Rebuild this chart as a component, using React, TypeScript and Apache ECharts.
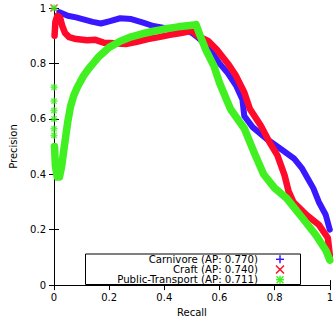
import React, { useEffect, useRef } from "react";
import * as echarts from "echarts";

const seriesNames = ["Carnivore (AP: 0.770)", "Craft (AP: 0.740)", "Public-Transport (AP: 0.711)"];
const seriesColors = ["#3a18ff", "#ff0a2a", "#40f020"];

const axisTicks = [0, 0.2, 0.4, 0.6, 0.8, 1];

const carnivore: number[][] = [
  [0.02, 0.985], [0.05, 0.972], [0.08, 0.966], [0.11, 0.958], [0.14, 0.95], [0.17, 0.944],
  [0.2, 0.952], [0.24, 0.963], [0.28, 0.96], [0.32, 0.948], [0.36, 0.935], [0.4, 0.928],
  [0.44, 0.925], [0.48, 0.918], [0.5, 0.91], [0.52, 0.895], [0.55, 0.868], [0.58, 0.83],
  [0.6, 0.8], [0.63, 0.765], [0.66, 0.72], [0.683, 0.67], [0.69, 0.61], [0.72, 0.57],
  [0.77, 0.528], [0.82, 0.493], [0.87, 0.457], [0.9, 0.42], [0.92, 0.385], [0.94, 0.35],
  [0.96, 0.3], [0.985, 0.254], [1.0, 0.2],
];

const craft: number[][] = [
  [0.002, 0.9], [0.005, 0.95], [0.012, 0.972], [0.022, 0.965], [0.03, 0.935], [0.04, 0.91],
  [0.055, 0.895], [0.08, 0.888], [0.12, 0.884], [0.15, 0.885], [0.18, 0.875], [0.22, 0.873],
  [0.26, 0.87], [0.3, 0.878], [0.34, 0.888], [0.38, 0.895], [0.42, 0.903], [0.46, 0.91],
  [0.5, 0.918], [0.52, 0.9], [0.56, 0.88], [0.59, 0.85], [0.63, 0.8], [0.66, 0.755],
  [0.69, 0.695], [0.71, 0.636], [0.75, 0.575], [0.78, 0.518], [0.81, 0.468], [0.836, 0.396],
  [0.85, 0.34], [0.868, 0.3], [0.915, 0.254], [0.96, 0.218], [0.993, 0.17], [1.0, 0.107],
];
const craftPoints: number[][] = [[0, 1.0]];

const publicTransport: number[][] = [
  [0.002, 0.5], [0.005, 0.43], [0.012, 0.39], [0.02, 0.39], [0.028, 0.43], [0.036, 0.49],
  [0.05, 0.59], [0.06, 0.645], [0.072, 0.685], [0.085, 0.715], [0.107, 0.755], [0.125, 0.78],
  [0.142, 0.8], [0.16, 0.822], [0.178, 0.838], [0.2, 0.858], [0.24, 0.88], [0.28, 0.896],
  [0.32, 0.907], [0.36, 0.916], [0.4, 0.924], [0.45, 0.932], [0.5, 0.938], [0.515, 0.94],
  [0.53, 0.9], [0.55, 0.85], [0.58, 0.79], [0.6, 0.73], [0.64, 0.635], [0.69, 0.565],
  [0.725, 0.48], [0.76, 0.4], [0.8, 0.35], [0.843, 0.314], [0.9, 0.243], [0.95, 0.18],
  [0.986, 0.125], [1.0, 0.09],
];
const publicTransportPoints: number[][] = [
  [0, 1.0], [0, 0.714], [0, 0.664], [0, 0.63], [0, 0.6], [0, 0.564], [0, 0.54], [0, 0.5],
];

const FONT = "DejaVu Sans";
const crossPath = "path://M0,0L8,8M8,0L0,8";
const starPath = "path://M0,4L8,4M4,0L4,8M1,1L7,7M7,1L1,7";

export default function App() {
  const ref = useRef<HTMLDivElement>(null);
  useEffect(() => {
    document.body.style.margin = "0";
    const chart = echarts.init(ref.current!, null, { renderer: "svg" });
    const baseAxis = {
      type: "value" as const,
      min: 0,
      max: 1,
      interval: 0.2,
      splitLine: { show: false },
      axisLine: { show: true, lineStyle: { color: "#000", width: 1 } },
      axisTick: { show: true, inside: true, length: 5, lineStyle: { color: "#000" } },
    };
    const fmt = (v: number) => String(axisTicks.find((t) => Math.abs(t - v) < 1e-6) ?? v);
    const lineSeries = (name: string, data: number[][], color: string, width: number) => ({
      name,
      type: "line",
      data,
      showSymbol: false,
      symbol: "none",
      clip: false,
      lineStyle: { color, width, cap: "round", join: "round" },
      itemStyle: { color },
    });
    const lx = 280;
    const rows = [259.3, 269.5, 279.7];
    const legendFont = `10.2px '${FONT}'`;
    chart.setOption({
      animation: false,
      textStyle: { fontFamily: FONT },
      grid: { left: 53, right: 2, top: 8, bottom: 34 },
      xAxis: [
        {
          ...baseAxis,
          position: "bottom",
          name: "Recall",
          nameLocation: "middle",
          nameGap: 20,
          nameTextStyle: { fontSize: 10, color: "#000", fontFamily: FONT },
          axisLabel: { fontSize: 10, color: "#000", margin: 7, fontFamily: FONT, formatter: fmt },
        },
        { ...baseAxis, position: "top", axisLabel: { show: false } },
      ],
      yAxis: [
        {
          ...baseAxis,
          position: "left",
          name: "Precision",
          nameLocation: "middle",
          nameGap: 36,
          nameTextStyle: { fontSize: 10, color: "#000", fontFamily: FONT },
          axisLabel: { fontSize: 10, color: "#000", margin: 8, fontFamily: FONT, formatter: fmt },
        },
        { ...baseAxis, position: "right", axisLabel: { show: false } },
      ],
      series: [
        lineSeries(seriesNames[0], carnivore, seriesColors[0], 6),
        lineSeries(seriesNames[1], craft, seriesColors[1], 6.5),
        {
          name: seriesNames[1] + " pts",
          type: "scatter",
          data: craftPoints,
          clip: false,
          symbol: crossPath,
          symbolSize: 7,
          itemStyle: { color: "none", borderColor: seriesColors[1], borderWidth: 1.5 },
        },
        lineSeries(seriesNames[2], publicTransport, seriesColors[2], 7.5),
        {
          name: seriesNames[2] + " pts",
          type: "scatter",
          data: publicTransportPoints,
          clip: false,
          symbol: starPath,
          symbolSize: 7,
          itemStyle: { color: "none", borderColor: seriesColors[2], borderWidth: 1.5 },
        },
      ],
      graphic: [
        {
          type: "rect",
          shape: { x: 85.5, y: 254, width: 215, height: 30.5 },
          style: { fill: "#fff", stroke: "#000", lineWidth: 1 },
          z: 100,
        },
        ...seriesNames.map((n, i) => ({
          type: "text",
          x: 258,
          y: rows[i],
          z: 101,
          style: { text: n, fill: "#000", font: legendFont, align: "right", verticalAlign: "middle" },
        })),
        { type: "line", z: 101, shape: { x1: lx - 4, y1: rows[0], x2: lx + 4, y2: rows[0] }, style: { stroke: seriesColors[0], lineWidth: 1.5 } },
        { type: "line", z: 101, shape: { x1: lx, y1: rows[0] - 4, x2: lx, y2: rows[0] + 4 }, style: { stroke: seriesColors[0], lineWidth: 1.5 } },
        { type: "line", z: 101, shape: { x1: lx - 4, y1: rows[1] - 4, x2: lx + 4, y2: rows[1] + 4 }, style: { stroke: seriesColors[1], lineWidth: 1.5 } },
        { type: "line", z: 101, shape: { x1: lx + 4, y1: rows[1] - 4, x2: lx - 4, y2: rows[1] + 4 }, style: { stroke: seriesColors[1], lineWidth: 1.5 } },
        { type: "line", z: 101, shape: { x1: lx - 4, y1: rows[2], x2: lx + 4, y2: rows[2] }, style: { stroke: seriesColors[2], lineWidth: 1.5 } },
        { type: "line", z: 101, shape: { x1: lx, y1: rows[2] - 4, x2: lx, y2: rows[2] + 4 }, style: { stroke: seriesColors[2], lineWidth: 1.5 } },
        { type: "line", z: 101, shape: { x1: lx - 3.5, y1: rows[2] - 3.5, x2: lx + 3.5, y2: rows[2] + 3.5 }, style: { stroke: seriesColors[2], lineWidth: 1.5 } },
        { type: "line", z: 101, shape: { x1: lx + 3.5, y1: rows[2] - 3.5, x2: lx - 3.5, y2: rows[2] + 3.5 }, style: { stroke: seriesColors[2], lineWidth: 1.5 } },
      ],
    });
    return () => chart.dispose();
  }, []);
  return <div ref={ref} style={{ width: 336, height: 322 }} />;
}
